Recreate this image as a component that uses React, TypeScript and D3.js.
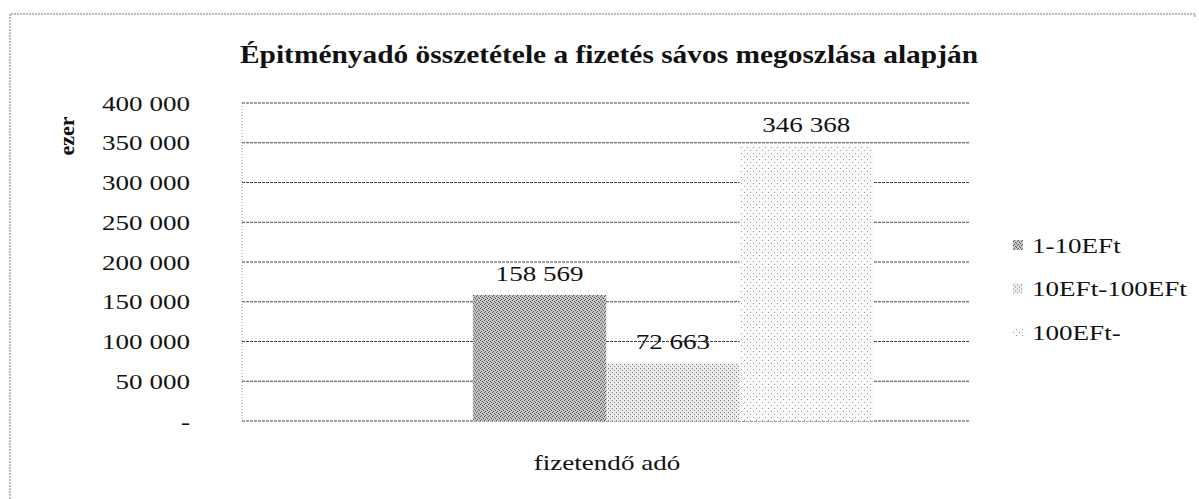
import * as d3 from 'd3';
import React, { useEffect, useRef } from 'react';

const title = 'Épitményadó összetétele a fizetés sávos megoszlása alapján';
const categories = ['fizetendő adó'];
const seriesNames = ['1-10EFt', '10EFt-100EFt', '100EFt-'];
const seriesValues = [158569, 72663, 346368];
const yTicks = [0, 50000, 100000, 150000, 200000, 250000, 300000, 350000, 400000];
const yTitle = 'ezer';

const W = 1199;
const H = 499;
const margin = { left: 242, right: 229, top: 103, bottom: 78 };
const FONT = "'Liberation Serif', 'Times New Roman', Times, serif";
const SX = 1.23; // the scan stretches glyphs horizontally

export default function App() {
  const ref = useRef<SVGSVGElement>(null);

  useEffect(() => {
    const svg = d3.select(ref.current);
    svg.selectAll('*').remove();

    const locale = d3.formatLocale({ decimal: ',', thousands: ' ', grouping: [3], currency: ['', ''] });
    const fmt = (v: number) => (v === 0 ? '-' : locale.format(',d')(v));
    const at = (x: number, y: number) => `translate(${x},${y}) scale(${SX},1)`;

    // scanned-looking fill patterns
    const defs = svg.append('defs');
    const pat = (id: string, size: number, bg: string, dots: [number, number][], dot: string) => {
      const p = defs
        .append('pattern')
        .attr('id', id)
        .attr('width', size)
        .attr('height', size)
        .attr('patternUnits', 'userSpaceOnUse');
      p.append('rect').attr('width', size).attr('height', size).attr('fill', bg);
      dots.forEach(([x, y]) => p.append('rect').attr('x', x).attr('y', y).attr('width', 1).attr('height', 1).attr('fill', dot));
    };
    pat('p0', 4, '#c4c4c4', [[0, 0], [2, 1], [1, 3], [3, 2]], '#5c5c5c');
    pat('p1', 4, '#ececec', [[0, 0], [2, 2]], '#7a7a7a');
    pat('p2', 6, '#fafafa', [[0, 0], [3, 3]], '#9a9a9a');

    const x0 = d3
      .scaleBand<string>()
      .domain(categories)
      .range([margin.left, W - margin.right])
      .paddingInner(0)
      .paddingOuter(0.41)
      .align(0.704);
    const x1 = d3.scaleBand<string>().domain(seriesNames).range([0, x0.bandwidth()]).padding(0);
    const y = d3
      .scaleLinear()
      .domain([0, 400000])
      .range([H - margin.bottom, margin.top]);

    // outer frame (top and left edges show in the scan)
    svg
      .append('path')
      .attr('d', `M10,${H}V14H1195v4`)
      .attr('fill', 'none')
      .attr('stroke', '#777')
      .attr('stroke-dasharray', '2,1');

    svg
      .append('text')
      .attr('x', 609)
      .attr('y', 63)
      .attr('text-anchor', 'middle')
      .attr('font-family', FONT)
      .attr('font-weight', 'bold')
      .attr('font-size', 25)
      .attr('textLength', 738)
      .attr('lengthAdjust', 'spacingAndGlyphs')
      .attr('fill', '#111')
      .text(title);

    // grid
    svg
      .append('g')
      .selectAll('line')
      .data(yTicks)
      .join('line')
      .attr('x1', margin.left)
      .attr('x2', W - margin.right)
      .attr('y1', (d) => y(d))
      .attr('y2', (d) => y(d))
      .attr('stroke', '#444')
      .attr('stroke-dasharray', '3,1');
    svg
      .append('line')
      .attr('x1', margin.left)
      .attr('x2', margin.left)
      .attr('y1', y(400000))
      .attr('y2', y(0))
      .attr('stroke', '#999')
      .attr('stroke-dasharray', '1,2');

    // y tick labels
    svg
      .append('g')
      .selectAll('text')
      .data(yTicks)
      .join('text')
      .attr('transform', (d) => at(190, y(d)))
      .attr('dy', '0.35em')
      .attr('text-anchor', 'end')
      .attr('font-family', FONT)
      .attr('font-size', 22)
      .attr('fill', '#111')
      .text((d) => fmt(d));

    svg
      .append('text')
      .attr('transform', `translate(66,136) rotate(-90)`)
      .attr('text-anchor', 'middle')
      .attr('dy', '0.35em')
      .attr('font-family', FONT)
      .attr('font-weight', 'bold')
      .attr('font-size', 22)
      .attr('fill', '#111')
      .text(yTitle);

    // bars
    const bx = x0(categories[0]) ?? 0;
    const g = svg.append('g');
    g.selectAll('rect')
      .data(seriesValues)
      .join('rect')
      .attr('x', (_, i) => bx + (x1(seriesNames[i]) ?? 0))
      .attr('y', (d) => y(d))
      .attr('width', x1.bandwidth())
      .attr('height', (d) => y(0) - y(d))
      .attr('fill', (_, i) => `url(#p${i})`);

    g.selectAll('text')
      .data(seriesValues)
      .join('text')
      .attr('transform', (d, i) => at(bx + (x1(seriesNames[i]) ?? 0) + x1.bandwidth() / 2, y(d) - 14))
      .attr('text-anchor', 'middle')
      .attr('font-family', FONT)
      .attr('font-size', 22)
      .attr('fill', '#111')
      .text((d) => fmt(d));

    // x axis title
    svg
      .append('text')
      .attr('transform', at(607, 470))
      .attr('text-anchor', 'middle')
      .attr('font-family', FONT)
      .attr('font-size', 22)
      .attr('fill', '#111')
      .text(categories[0]);

    // legend
    const leg = svg
      .append('g')
      .selectAll('g')
      .data(seriesNames)
      .join('g')
      .attr('transform', (_, i) => `translate(1013,${245 + i * 43.5})`);
    leg
      .append('rect')
      .attr('y', -5)
      .attr('width', 10)
      .attr('height', 10)
      .attr('fill', (_, i) => `url(#p${i})`);
    leg
      .append('text')
      .attr('transform', at(19, 0))
      .attr('dy', '0.35em')
      .attr('font-family', FONT)
      .attr('font-size', 22)
      .attr('fill', '#111')
      .text((d) => d);
  }, []);

  return (
    <svg
      ref={ref}
      width={W}
      height={H}
      style={{ position: 'absolute', left: 0, top: 0, background: '#fff' }}
    ></svg>
  );
}
